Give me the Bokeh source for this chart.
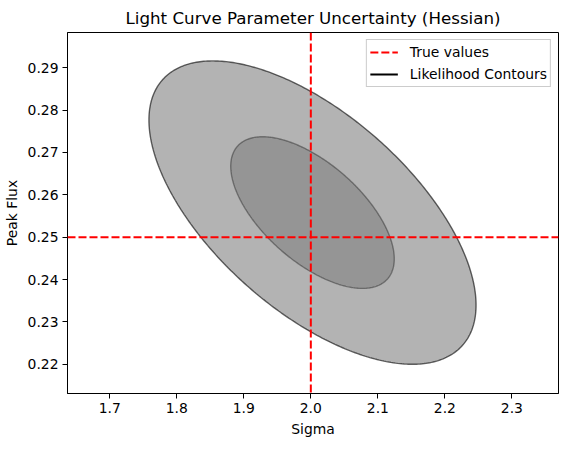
import numpy as np
from bokeh.plotting import figure
from bokeh.models import Range1d, FixedTicker, Span, Legend, LegendItem
from bokeh.embed import file_html
from bokeh.resources import INLINE

# ---- data ----
true_sigma = 2.0
true_peak_flux = 0.25
fit_center = [2.0025, 0.2558]        # (sigma, peak flux) best fit
fit_std = [0.1220, 0.0179]           # 1-sigma uncertainties
fit_corr = -0.61                     # correlation coefficient
contour_levels = [2.0, 1.0]          # outer, inner contour (in sigma units)
x_ticks = [1.7, 1.8, 1.9, 2.0, 2.1, 2.2, 2.3]
x_tick_labels = ["1.7", "1.8", "1.9", "2.0", "2.1", "2.2", "2.3"]
y_ticks = [0.22, 0.23, 0.24, 0.25, 0.26, 0.27, 0.28, 0.29]
y_tick_labels = ["0.22", "0.23", "0.24", "0.25", "0.26", "0.27", "0.28", "0.29"]
x_limits = [1.637, 2.3695]
y_limits = [0.2131, 0.2983]

FONT = "DejaVu Sans"
FS = "13.9px"
edge_alphas = [0.6, 0.35]

p = figure(width=560, height=439, output_backend="svg", toolbar_location=None,
           x_range=Range1d(*x_limits), y_range=Range1d(*y_limits),
           min_border_left=67, min_border_right=2, min_border_top=30, min_border_bottom=44)

p.title.text = "Light Curve Parameter Uncertainty (Hessian)"
p.title.align = "center"
p.title.text_font = FONT
p.title.text_font_size = "16.7px"
p.title.text_font_style = "normal"
p.title.text_color = "black"

# ellipses from covariance
t = np.linspace(0, 2 * np.pi, 400)
cx, cy = fit_center
sx, sy = fit_std
for k, ea in zip(contour_levels, edge_alphas):
    xs = cx + k * sx * np.cos(t)
    ys = cy + k * sy * (fit_corr * np.cos(t) + np.sqrt(1 - fit_corr ** 2) * np.sin(t))
    p.patch(xs, ys, fill_color="#808080", fill_alpha=0.6,
            line_color="black", line_alpha=ea, line_width=1.4)

# true value lines
vline = Span(location=true_sigma, dimension="height", line_color="red",
             line_dash="8 3", line_width=2)
hline = Span(location=true_peak_flux, dimension="width", line_color="red",
             line_dash="8 3", line_width=2)
p.add_layout(vline)
p.add_layout(hline)

# legend proxies (no visible data)
nan = [float("nan")]
r_true = p.line(x=nan, y=nan, line_color="red", line_dash="8 3", line_width=2)
r_cont = p.line(x=nan, y=nan, line_color="black", line_width=2)
legend = Legend(items=[LegendItem(label="True values", renderers=[r_true]),
                       LegendItem(label="Likelihood Contours", renderers=[r_cont])],
                location="top_right")
legend.margin = 7
legend.padding = 3
legend.spacing = 4
legend.glyph_width = 28
legend.glyph_height = 18
legend.label_height = 18
legend.label_standoff = 12
legend.label_text_font = FONT
legend.label_text_font_size = FS
legend.label_text_color = "black"
legend.border_line_color = "#cccccc"
legend.border_line_alpha = 1
legend.background_fill_color = "white"
legend.background_fill_alpha = 0.8
p.add_layout(legend)

# axes
p.xgrid.visible = False
p.ygrid.visible = False
p.outline_line_color = "black"
p.outline_line_alpha = 1
p.outline_line_width = 1

p.xaxis.ticker = FixedTicker(ticks=x_ticks)
p.xaxis.major_label_overrides = {v: s for v, s in zip(x_ticks, x_tick_labels)}
p.yaxis.ticker = FixedTicker(ticks=y_ticks)
p.yaxis.major_label_overrides = {v: s for v, s in zip(y_ticks, y_tick_labels)}
p.xaxis.axis_label = "Sigma"
p.yaxis.axis_label = "Peak Flux"
for ax in (p.xaxis[0], p.yaxis[0]):
    ax.axis_line_color = "black"
    ax.major_tick_line_color = "black"
    ax.major_tick_out = 5
    ax.major_tick_in = 0
    ax.minor_tick_line_color = None
    ax.major_label_text_font = FONT
    ax.major_label_text_font_size = FS
    ax.major_label_text_color = "black"
    ax.axis_label_text_font = FONT
    ax.axis_label_text_font_size = FS
    ax.axis_label_text_font_style = "normal"
    ax.axis_label_text_color = "black"
    ax.major_label_standoff = 4
    ax.axis_label_standoff = 5

open("out.html", "w").write(file_html(p, INLINE))
